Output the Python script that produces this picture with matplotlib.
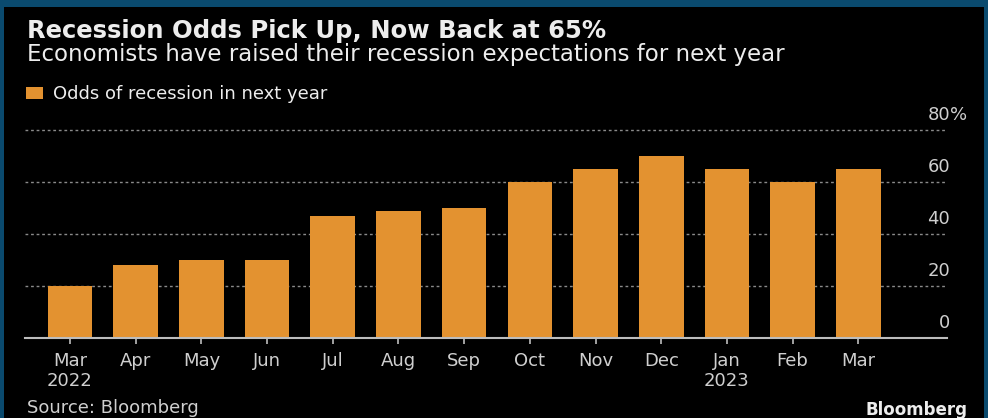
#!/usr/bin/env python3
import matplotlib.pyplot as plt
import matplotlib.transforms as mtransforms
import numpy as np

# Data
months = ['Mar\n2022', 'Apr', 'May', 'Jun', 'Jul', 'Aug', 'Sep',
          'Oct', 'Nov', 'Dec', 'Jan\n2023', 'Feb', 'Mar']
odds = [20, 28, 30, 30, 47, 49, 50, 60, 65, 70, 65, 60, 65]
y_ticks = [0, 20, 40, 60, 80]
y_labels = ['0', '20', '40', '60', '80']

W, H = 988, 418
border = '#0A4A6E'
orange = '#E39230'
text_col = '#EDEDED'
tick_col = '#CFCFCF'

fig = plt.figure(figsize=(W / 100, H / 100), dpi=100)
fig.patch.set_facecolor(border)

# Black panel inside the blue frame (frame is cut at the bottom)
panel = plt.Rectangle((4 / W, 0), 1 - 8 / W, 1 - 7 / H, transform=fig.transFigure,
                      facecolor='black', edgecolor='none', zorder=-10)
fig.patches.append(panel)

def fx(px):
    return px / W

def fy(py):
    return 1 - py / H

# Axes placed in pixels: x from 25 to 947, y=0 at 338 px, 2.604 px per unit
ymax = 82
px_per_unit = 2.604
ax_bottom = fy(338.3)
ax_height = ymax * px_per_unit / H
ax = fig.add_axes([fx(25), ax_bottom, fx(947) - fx(25), ax_height])
ax.set_facecolor('black')
ax.set_zorder(1)

x = np.arange(len(months))
ax.bar(x, odds, width=0.68, color=orange, label='Odds of recession in next year', zorder=2)
ax.set_xlim(-0.685, 13.35)
ax.set_ylim(0, ymax)

# Dotted gridlines
ax.set_yticks(y_ticks)
ax.yaxis.grid(True, color='#8A8A8A', linestyle=(0, (2, 2)), linewidth=1)
ax.set_axisbelow(True)
ax.tick_params(axis='y', length=0, labelleft=False, labelright=False)

for s in ['top', 'left', 'right']:
    ax.spines[s].set_visible(False)
ax.spines['bottom'].set_color('#BDBDBD')
ax.spines['bottom'].set_linewidth(1.5)
ax.spines['bottom'].set_zorder(3)

ax.set_xticks(x)
ax.set_xticklabels(months, fontsize=13, color=tick_col, linespacing=1.15)
ax.tick_params(axis='x', length=4, width=1.2, color='#BDBDBD', pad=6)

# Right-side value labels sitting above each gridline
lab_tr = mtransforms.offset_copy(ax.get_yaxis_transform(), fig=fig, x=3, y=6, units='dots')
for v, lab in zip(y_ticks, y_labels):
    ax.text(1.0, v, lab, transform=lab_tr, ha='right', va='bottom',
            fontsize=13, color=tick_col, clip_on=False)
ax.text(1.0, y_ticks[-1], '%', transform=lab_tr, ha='left', va='bottom',
        fontsize=13, color=tick_col, clip_on=False)

# Titles
fig.text(fx(27), fy(38), 'Recession Odds Pick Up, Now Back at 65%', fontsize=17.5,
         fontweight='bold', color=text_col, va='baseline', ha='left')
fig.text(fx(27), fy(61), 'Economists have raised their recession expectations for next year',
         fontsize=16.5, color=text_col, va='baseline', ha='left')

# Legend
fig.legend(loc='upper left', bbox_to_anchor=(fx(26), fy(85)), frameon=False, fontsize=13,
           handlelength=0.95, handleheight=0.65, handletextpad=0.55, borderpad=0,
           borderaxespad=0, labelcolor=text_col)

# Footer
fig.text(fx(27), fy(399), 'Source: Bloomberg', fontsize=13, color=tick_col,
         va='top', ha='left')
fig.text(fx(967), fy(401), 'Bloomberg', fontsize=12, fontweight='bold', color=text_col,
         va='top', ha='right')

plt.savefig('out.png', dpi=100, facecolor=fig.get_facecolor())
plt.close()
print('Chart saved to out.png')
